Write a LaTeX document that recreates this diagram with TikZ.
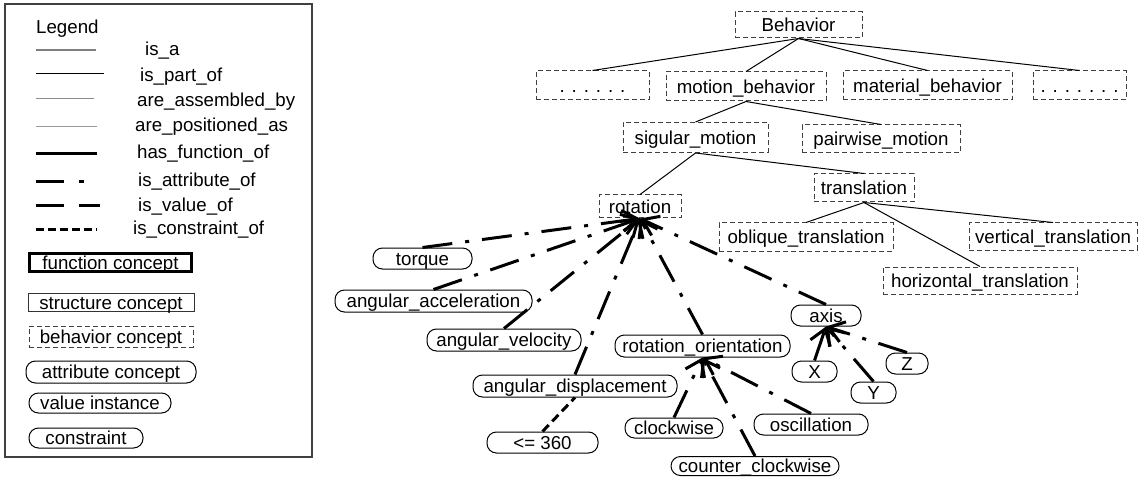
\documentclass[tikz,border=0pt]{standalone}
\usepackage{fontspec}
\setmainfont{Liberation Sans}
\usetikzlibrary{arrows.meta}
\tikzset{
  every node/.style={font=\fontsize{18.7}{22}\selectfont, inner sep=0pt, text height=13.4pt, text depth=0pt},
  beh/.style={draw=black!75, dash pattern=on 5pt off 3pt, line width=1pt},
  attrc/.style={draw=black, rounded corners=9.5pt, line width=1pt},
  strc/.style={draw=black!80, line width=1pt},
  func/.style={draw=black, line width=3pt},
  isa/.style={draw=black, line width=1pt},
  attr/.style={line width=3pt, dash pattern=on 30pt off 13pt on 4pt off 13pt, -{Straight Barb[length=15pt,width=21pt]}},
  cons/.style={line width=3pt, dash pattern=on 9pt off 5pt},
  lbl/.style={anchor=west}
}
\begin{document}
\begin{tikzpicture}[x=1pt,y=-1pt]
\useasboundingbox (0,0) rectangle (1139,478);
% ---------------- Legend ----------------
\draw[black!75, line width=1.2pt] (5,4) rectangle (312,457);
\node[lbl] (lgd) at (36,27) {Legend};
\draw[black!50, line width=1.2pt] (36,50) -- (96,50);
\node[lbl] (l1) at (145,49) {is\_a};
\draw[black, line width=1pt] (36,74) -- (104,74);
\node[lbl] (l2) at (140,75) {is\_part\_of};
\draw[black!45, line width=1pt] (36,99) -- (94,99);
\node[lbl] (l3) at (137,100) {are\_assembled\_by};
\draw[black!40, line width=0.8pt] (36,126) -- (97,126);
\node[lbl] (l4) at (135,125) {are\_positioned\_as};
\draw[black, line width=3pt] (36,154) -- (97,154);
\node[lbl] (l5) at (137,152) {has\_function\_of};
\draw[black, line width=3pt, dash pattern=on 28pt off 15pt on 5pt off 15pt] (36,182) -- (86,182);
\node[lbl] (l6) at (138,180) {is\_attribute\_of};
\draw[black, line width=3pt, dash pattern=on 28pt off 15pt] (36,206) -- (100,206);
\node[lbl] (l7) at (138,205) {is\_value\_of};
\draw[black, line width=3pt, dash pattern=on 8pt off 4pt] (36,230) -- (97,230);
\node[lbl] (l8) at (133,228) {is\_constraint\_of};
\node[func, minimum width=162pt, minimum height=18pt] (lf) at (110.5,262.5) {function concept};
\node[strc, minimum width=166pt, minimum height=18pt] (ls) at (111,302.5) {structure concept};
\node[beh, minimum width=164pt, minimum height=21pt] (lb) at (111,336.5) {behavior concept};
\node[attrc, minimum width=170pt, minimum height=22pt] (la) at (111,372) {attribute concept};
\node[attrc, minimum width=142pt, minimum height=20pt] (lv) at (100,403) {value instance};
\node[attrc, minimum width=114pt, minimum height=20pt] (lc) at (86,438) {constraint};
% ---------------- Behavior tree ----------------
\node[beh, minimum width=127pt, minimum height=26pt] (behavior) at (798.5,25) {Behavior};
\node[beh, minimum width=113pt, minimum height=29pt] (dotsL) at (592.5,85.5) {. . . . . .};
\node[beh, minimum width=160pt, minimum height=29pt] (motion) at (746,86.5) {motion\_behavior};
\node[beh, minimum width=169pt, minimum height=29pt] (material) at (927.5,85.5) {material\_behavior};
\node[beh, minimum width=93pt, minimum height=29pt] (dotsR) at (1079.5,85.5) {. . . . . . .};
\node[beh, minimum width=145pt, minimum height=30pt] (sigular) at (695.5,137.5) {sigular\_motion};
\node[beh, minimum width=158pt, minimum height=28pt] (pairwise) at (881,139) {pairwise\_motion};
\node[beh, minimum width=100pt, minimum height=28pt] (translation) at (864,188) {translation};
\node[beh, minimum width=82pt, minimum height=23pt] (rotation) at (640,206.5) {rotation};
\node[beh, minimum width=174pt, minimum height=28pt] (oblique) at (806,237) {oblique\_translation};
\node[beh, minimum width=168pt, minimum height=27pt] (vertical) at (1053,236.5) {vertical\_translation};
\node[beh, minimum width=194pt, minimum height=27pt] (horizontal) at (980,280.5) {horizontal\_translation};
% attributes and values
\node[attrc, minimum width=99pt, minimum height=21pt] (torque) at (422.5,258.5) {torque};
\node[attrc, minimum width=197pt, minimum height=22pt] (angacc) at (433.5,301) {angular\_acceleration};
\node[attrc, minimum width=154pt, minimum height=22pt] (angvel) at (504,340) {angular\_velocity};
\node[attrc, minimum width=204pt, minimum height=22pt] (angdisp) at (575,386) {angular\_displacement};
\node[attrc, minimum width=111pt, minimum height=21pt] (le) at (542.5,442.5) {<= 360};
\node[attrc, minimum width=175pt, minimum height=22pt] (rotor) at (702.5,346) {rotation\_orientation};
\node[attrc, minimum width=98pt, minimum height=20pt] (cw) at (674,428) {clockwise};
\node[attrc, minimum width=168pt, minimum height=19pt] (ccw) at (755,466) {counter\_clockwise};
\node[attrc, minimum width=114pt, minimum height=21pt] (osc) at (811,424.5) {oscillation};
\node[attrc, minimum width=70pt, minimum height=21pt] (axis) at (826,315.5) {axis};
\node[attrc, minimum width=45pt, minimum height=21pt] (X) at (814.5,371.5) {X};
\node[attrc, minimum width=45pt, minimum height=21pt] (Y) at (873.5,392.5) {Y};
\node[attrc, minimum width=42pt, minimum height=21pt] (Z) at (907,363.5) {Z};
% is_a edges
\draw[isa] (behavior.south) -- (dotsL.north);
\draw[isa] (behavior.south) -- (motion.north);
\draw[isa] (behavior.south) -- (material.north);
\draw[isa] (behavior.south) -- (dotsR.north);
\draw[isa] (motion.south) -- (sigular.north);
\draw[isa] (motion.south) -- (pairwise.north);
\draw[isa] (sigular.south) -- (rotation.north);
\draw[isa] (sigular.south) -- (translation.north);
\draw[isa] (translation.south) -- (oblique.north);
\draw[isa] (translation.south) -- (vertical.north);
\draw[isa] (translation.south) -- (horizontal.north);
% attribute edges
\draw[attr] (torque.north) -- (rotation.south);
\draw[attr] (angacc.north) -- (rotation.south);
\draw[attr] (angvel.north) -- (rotation.south);
\draw[attr] (angdisp.north) -- (rotation.south);
\draw[attr] (rotor.north) -- (rotation.south);
\draw[attr] (axis.north) -- (rotation.south);
\draw[attr] (cw.north) -- (rotor.south);
\draw[attr] (ccw.north) -- (rotor.south);
\draw[attr] (osc.north) -- (rotor.south);
\draw[attr] (X.north) -- (axis.south);
\draw[attr] (Y.north) -- (axis.south);
\draw[attr] (Z.north) -- (axis.south);
% constraint
\draw[cons] (le.north) -- (angdisp.south);
\end{tikzpicture}
\end{document}
